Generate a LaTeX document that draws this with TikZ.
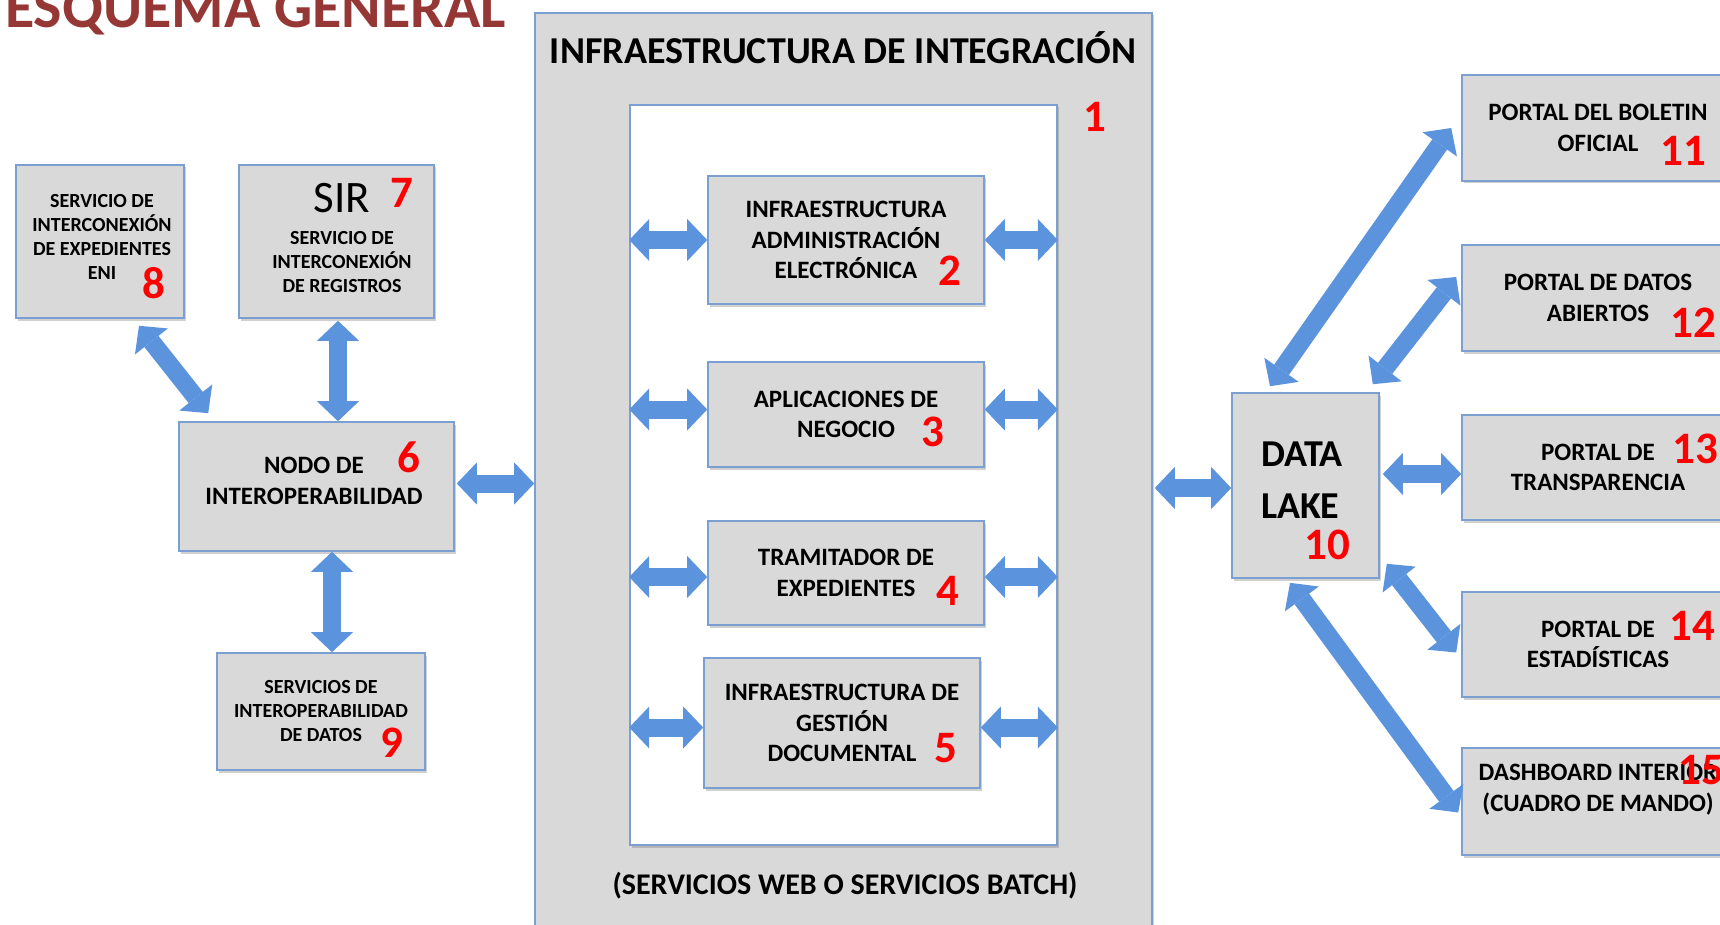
\documentclass[tikz,border=0pt]{standalone}
\usepackage{fontspec}
\setmainfont{Carlito}
\usetikzlibrary{arrows.meta,calc,shadows}
\definecolor{boxfill}{HTML}{D9D9D9}
\definecolor{boxline}{HTML}{7B9FD0}
\definecolor{arrowblue}{HTML}{5B93DC}
\definecolor{titlered}{HTML}{953735}
\newcommand{\boxfont}{\bfseries\fontsize{25}{30.5}\selectfont}
\newcommand{\smallboxfont}{\bfseries\fontsize{20}{24}\selectfont}
\newcommand{\numfont}{\bfseries\fontsize{45}{45}\selectfont}
\begin{document}
\begin{tikzpicture}[x=1pt,y=-1pt,
  gbox/.style={draw=boxline, line width=1.6pt, fill=boxfill, inner sep=0pt, align=center, font=\boxfont,
     drop shadow={shadow xshift=1.5pt, shadow yshift=-2.5pt, opacity=0.3, fill=black!60}},
  sbox/.style={gbox, font=\smallboxfont},
  txt/.style={inner sep=0pt, align=center, font=\boxfont},
  nlabel/.style={inner sep=0pt, font=\numfont, text=red},
  barrow/.style={draw=arrowblue, line width=18pt,
     {Triangle[length=20pt,width=42pt,line width=0pt]}-{Triangle[length=20pt,width=42pt,line width=0pt]}}]
\useasboundingbox (0,0) rectangle (1720,925);
\clip (0,0) rectangle (1720,925);
\fill[white] (0,0) rectangle (1720,925);

% title
\node[anchor=base west, inner sep=0pt, text=titlered, font=\bfseries\fontsize{60}{60}\selectfont] (title) at (5,28) {ESQUEMA GENERAL};

% integration infrastructure
\node[gbox, minimum width=617pt, minimum height=927pt] (outer) at (843.5,476.5) {};
\node[anchor=base, inner sep=0pt, font=\bfseries\fontsize{38}{38}\selectfont] (outertitle) at (843,64) {INFRAESTRUCTURA DE INTEGRACIÓN};
\node[anchor=base, inner sep=0pt, font=\bfseries\fontsize{30}{30}\selectfont] (servicios) at (845,894) {(SERVICIOS WEB O SERVICIOS BATCH)};
\node[draw=boxline, line width=1.6pt, fill=white, inner sep=0pt, minimum width=427pt, minimum height=740pt,
  drop shadow={shadow xshift=1.5pt, shadow yshift=-2.5pt, opacity=0.3, fill=black!60}] (inner) at (843.5,475) {};

\node[gbox, minimum width=276pt, minimum height=128pt] (b2) at (846,240) {INFRAESTRUCTURA\\ADMINISTRACIÓN\\ELECTRÓNICA};
\node[gbox, minimum width=276pt, minimum height=105pt] (b3) at (846,414.5) {APLICACIONES DE\\NEGOCIO};
\node[gbox, minimum width=276pt, minimum height=104pt] (b4) at (846,573) {TRAMITADOR DE\\EXPEDIENTES};
\node[gbox, minimum width=276pt, minimum height=130pt] (b5) at (842,723) {INFRAESTRUCTURA DE\\GESTIÓN\\DOCUMENTAL};

% left side
\node[sbox, minimum width=168pt, minimum height=153pt] (b8) at (100,241.5) {};
\node[txt, font=\smallboxfont] (b8text) at (102,237) {SERVICIO DE\\INTERCONEXIÓN\\DE EXPEDIENTES\\ENI};
\node[sbox, minimum width=195pt, minimum height=153pt] (sir) at (336.5,241.5) {};
\node[anchor=base, inner sep=0pt, font=\fontsize{45}{45}\selectfont] (sirname) at (342,213) {SIR};
\node[txt, font=\smallboxfont] (sirtext) at (342,262) {SERVICIO DE\\INTERCONEXIÓN\\DE REGISTROS};
\node[gbox, minimum width=275pt, minimum height=129pt] (nodo) at (316.5,486.5) {};
\node[txt] (nodotext) at (314,481) {NODO DE\\INTEROPERABILIDAD};
\node[sbox, minimum width=208pt, minimum height=117pt] (b9) at (321,711.5) {SERVICIOS DE\\INTEROPERABILIDAD\\DE DATOS};

% right side
\node[gbox, minimum width=147pt, minimum height=185pt] (dl) at (1305.5,485.5) {};
\node[txt, align=left, font=\bfseries\fontsize{38}{52}\selectfont] (dltext) at (1302,480) {DATA\\LAKE};
\node[gbox, minimum width=272pt, minimum height=106pt] (p11) at (1598,128) {PORTAL DEL BOLETIN\\OFICIAL};
\node[gbox, minimum width=272pt, minimum height=106pt] (p12) at (1598,298) {PORTAL DE DATOS\\ABIERTOS};
\node[gbox, minimum width=272pt, minimum height=105pt] (p13) at (1598,467.5) {PORTAL DE\\TRANSPARENCIA};
\node[gbox, minimum width=272pt, minimum height=105pt] (p14) at (1598,644.5) {PORTAL DE\\ESTADÍSTICAS};
\node[gbox, minimum width=272pt, minimum height=107pt] (p15) at (1598,801.5) {};
\node[txt] (p15text) at (1598,789.5) {DASHBOARD INTERIOR\\(CUADRO DE MANDO)};

% arrows, left part
\draw[barrow] ($(b8.south)+(39,7)$) -- ($(nodo.north west)+(30,-8)$);
\coordinate (c7) at ($(sir.south)+(1.5,2)$);
\draw[barrow] (c7) -- (c7 |- nodo.north);
\coordinate (c9) at ($(b9.north)+(11,0)$);
\draw[barrow] (c9 |- nodo.south) -- (c9);
\draw[barrow] ($(nodo.east)+(2,-3)$) -- ($(outer.west |- nodo.east)+(0,-3)$);

% arrows inside
\foreach \b/\s in {b2/0,b3/-5,b4/4,b5/4.5} {
  \draw[barrow] ($(inner.west |- \b.west)+(0,\s)$) -- ($(\b.west)+(0,\s)$);
  \draw[barrow] ($(\b.east)+(0,\s)$) -- ($(inner.east |- \b.east)+(0,\s)$);
}

% arrows, right part
\draw[barrow] ($(outer.east |- dl.west)+(2,2.5)$) -- ($(dl.west)+(0,2.5)$);
\draw[barrow] ($(dl.east)+(3,-11.5)$) -- ($(p13.west |- dl.east)+(0,-11.5)$);
\draw[barrow] ($(dl.north)+(-35.5,-6)$) -- ($(p11.west)+(-10,0)$);
\draw[barrow] ($(dl.north east)+(-7,-8)$) -- ($(p12.west)+(-5,-21)$);
\draw[barrow] ($(dl.south east)+(7,-15)$) -- ($(p14.west)+(-5,8)$);
\draw[barrow] ($(dl.south)+(-15.5,4)$) -- ($(p15.west)+(-3,11)$);

% red numbers
\node[nlabel] (n1) at (1095,117) {1};
\node[nlabel] (n2) at (950,271) {2};
\node[nlabel] (n3) at (933,432) {3};
\node[nlabel] (n4) at (948,591) {4};
\node[nlabel] (n5) at (946,748) {5};
\node[nlabel] (n6) at (409,457) {6};
\node[nlabel] (n7) at (402,193) {7};
\node[nlabel] (n8) at (154,283) {8};
\node[nlabel] (n9) at (392,743) {9};
\node[nlabel] (n10) at (1327,545) {10};
\node[nlabel] (n11) at (1683,151) {11};
\node[nlabel] (n12) at (1693,323) {12};
\node[nlabel] (n13) at (1695,449) {13};
\node[nlabel] (n14) at (1692,626) {14};
\node[nlabel] (n15) at (1701,770) {15};
\end{tikzpicture}
\end{document}
